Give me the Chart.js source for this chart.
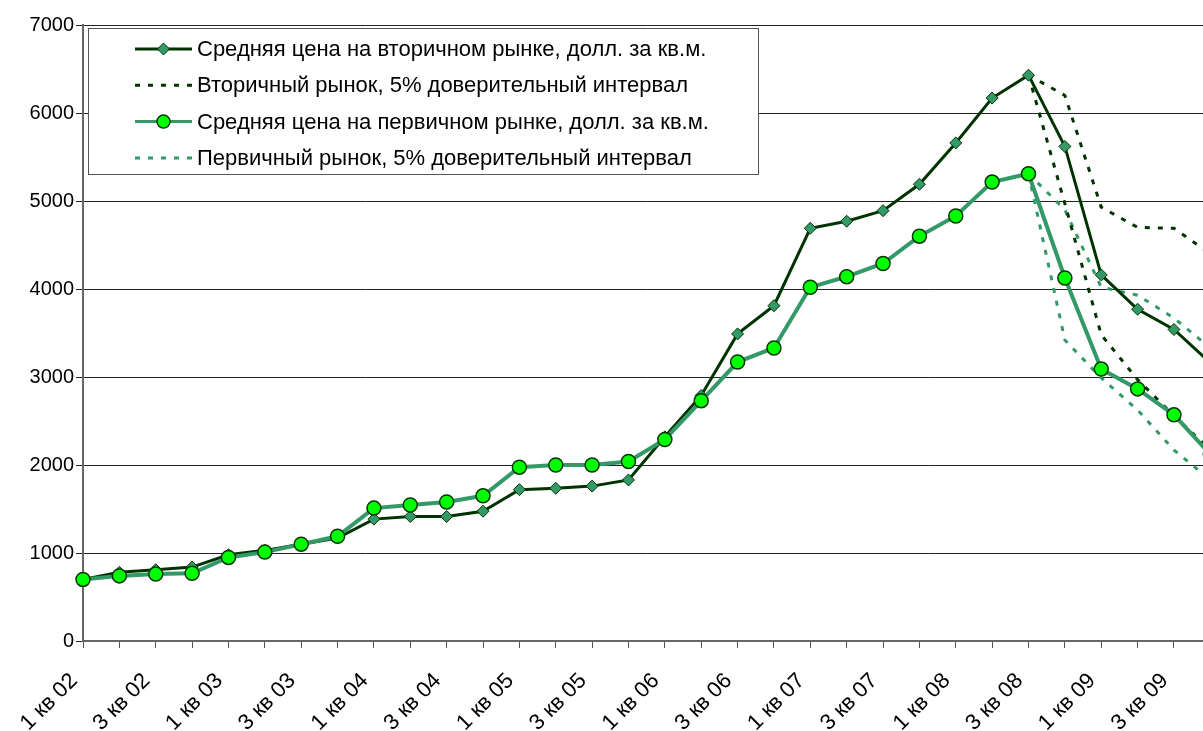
<!DOCTYPE html>
<html>
<head>
<meta charset="utf-8">
<script src="https://cdn.jsdelivr.net/npm/chart.js@4"></script>
<style>
  html, body { margin: 0; padding: 0; background: #fff; overflow: hidden; }
  .wrap { width: 1249px; height: 731px; }
</style>
</head>
<body>
<div class="wrap"><canvas id="myChart" width="1249" height="731"></canvas></div>
<script>
const quarters = [
  '1 кв 02', '2 кв 02', '3 кв 02', '4 кв 02',
  '1 кв 03', '2 кв 03', '3 кв 03', '4 кв 03',
  '1 кв 04', '2 кв 04', '3 кв 04', '4 кв 04',
  '1 кв 05', '2 кв 05', '3 кв 05', '4 кв 05',
  '1 кв 06', '2 кв 06', '3 кв 06', '4 кв 06',
  '1 кв 07', '2 кв 07', '3 кв 07', '4 кв 07',
  '1 кв 08', '2 кв 08', '3 кв 08', '4 кв 08',
  '1 кв 09', '2 кв 09', '3 кв 09', '4 кв 09',
];

const secondaryMean = [
  700, 780, 810, 840, 980, 1030, 1100, 1170,
  1385, 1415, 1415, 1475, 1720, 1735, 1760, 1830,
  2320, 2790, 3490, 3810, 4690, 4770, 4890, 5190,
  5660, 6170, 6430, 5620, 4160, 3770, 3540, 3160,
];
const secondaryUpper = [
  null, null, null, null, null, null, null, null,
  null, null, null, null, null, null, null, null,
  null, null, null, null, null, null, null, null,
  null, null, 6430, 6200, 4930, 4700, 4690, 4400,
];
const secondaryLower = [
  null, null, null, null, null, null, null, null,
  null, null, null, null, null, null, null, null,
  null, null, null, null, null, null, null, null,
  null, null, 6430, 4970, 3480, 2970, 2560, 2170,
];

const primaryMean = [
  700, 740, 760, 770, 950, 1010, 1100, 1190,
  1510, 1545, 1580, 1650, 1975, 2000, 2000, 2040,
  2290, 2730, 3170, 3330, 4020, 4140, 4290, 4600,
  4830, 5215, 5310, 4125, 3090, 2865, 2570, 2120,
];
const primaryUpper = [
  null, null, null, null, null, null, null, null,
  null, null, null, null, null, null, null, null,
  null, null, null, null, null, null, null, null,
  null, null, 5310, 4900, 4020, 3930, 3670, 3330,
];
const primaryLower = [
  null, null, null, null, null, null, null, null,
  null, null, null, null, null, null, null, null,
  null, null, null, null, null, null, null, null,
  null, null, 5310, 3420, 2990, 2625, 2170, 1830,
];

const colors = {
  dark: '#003300',
  diamond: '#339966',
  primary: '#339966',
  circle: '#00ff00',
};
const font = "Arial, 'Liberation Sans', sans-serif";
const dash = [5, 8];

const legendItems = [
  { text: 'Средняя цена на вторичном рынке, долл. за кв.м.', color: colors.dark, width: 3, dash: [], marker: 'diamond' },
  { text: 'Вторичный рынок, 5% доверительный интервал', color: colors.dark, width: 3, dash: dash, marker: null },
  { text: 'Средняя цена на первичном рынке, долл. за кв.м.', color: colors.primary, width: 3, dash: [], marker: 'circle' },
  { text: 'Первичный рынок, 5% доверительный интервал', color: colors.primary, width: 3, dash: dash, marker: null },
];

// legend is drawn by hand, boxed inside the plot like the original
const legendBox = {
  id: 'legendBox',
  afterDraw(chart) {
    const ctx = chart.ctx;
    const area = chart.chartArea;
    const x = area.left + 5, y = area.top + 3, w = 670, h = 146;
    ctx.save();
    ctx.fillStyle = '#fff';
    ctx.fillRect(x, y, w, h);
    ctx.strokeStyle = '#555';
    ctx.lineWidth = 1;
    ctx.strokeRect(x + 0.5, y + 0.5, w, h);
    legendItems.forEach((item, i) => {
      const cy = y + 21 + i * 36.3;
      ctx.beginPath();
      ctx.setLineDash(item.dash);
      ctx.strokeStyle = item.color;
      ctx.lineWidth = item.width;
      ctx.moveTo(x + 47, cy);
      ctx.lineTo(x + 104, cy);
      ctx.stroke();
      ctx.setLineDash([]);
      const mx = x + 75.5;
      if (item.marker === 'diamond') {
        ctx.beginPath();
        ctx.moveTo(mx, cy - 6);
        ctx.lineTo(mx + 6, cy);
        ctx.lineTo(mx, cy + 6);
        ctx.lineTo(mx - 6, cy);
        ctx.closePath();
        ctx.fillStyle = colors.diamond;
        ctx.fill();
        ctx.lineWidth = 1;
        ctx.strokeStyle = colors.dark;
        ctx.stroke();
      } else if (item.marker === 'circle') {
        ctx.beginPath();
        ctx.arc(mx, cy, 6.5, 0, Math.PI * 2);
        ctx.fillStyle = colors.circle;
        ctx.fill();
        ctx.lineWidth = 1.5;
        ctx.strokeStyle = colors.dark;
        ctx.stroke();
      }
      ctx.fillStyle = '#000';
      ctx.font = '22px ' + font;
      ctx.textBaseline = 'middle';
      ctx.textAlign = 'left';
      ctx.fillText(item.text, x + 109, cy + 1);
    });
    ctx.restore();
  },
};

const ctx = document.getElementById('myChart');

// eslint-disable-next-line no-undef
var chart = new Chart(ctx, { // eslint-disable-line no-unused-vars
  type: 'line',
  data: {
    labels: quarters,
    datasets: [
      {
        label: 'Средняя цена на первичном рынке, долл. за кв.м.',
        data: primaryMean,
        borderColor: colors.primary,
        borderWidth: 4,
        pointStyle: 'circle',
        pointRadius: 7,
        pointBackgroundColor: colors.circle,
        pointBorderColor: colors.dark,
        pointBorderWidth: 1.5,
        order: 0,
      },
      {
        label: 'Средняя цена на вторичном рынке, долл. за кв.м.',
        data: secondaryMean,
        borderColor: colors.dark,
        borderWidth: 3,
        pointStyle: 'rectRot',
        pointRadius: 6,
        pointBackgroundColor: colors.diamond,
        pointBorderColor: colors.dark,
        pointBorderWidth: 1,
        order: 1,
      },
      {
        label: 'Вторичный рынок, верх',
        data: secondaryUpper,
        borderColor: colors.dark,
        borderWidth: 3,
        borderDash: dash,
        pointRadius: 0,
        order: 2,
      },
      {
        label: 'Вторичный рынок, низ',
        data: secondaryLower,
        borderColor: colors.dark,
        borderWidth: 3,
        borderDash: dash,
        pointRadius: 0,
        order: 2,
      },
      {
        label: 'Первичный рынок, верх',
        data: primaryUpper,
        borderColor: colors.primary,
        borderWidth: 3,
        borderDash: dash,
        pointRadius: 0,
        order: 3,
      },
      {
        label: 'Первичный рынок, низ',
        data: primaryLower,
        borderColor: colors.primary,
        borderWidth: 3,
        borderDash: dash,
        pointRadius: 0,
        order: 3,
      },
    ],
  },
  options: {
    responsive: false,
    animation: false,
    layout: { padding: { top: 25, right: 10, left: 0, bottom: 0 } },
    plugins: {
      legend: { display: false },
      tooltip: { enabled: false },
    },
    scales: {
      x: {
        offset: false,
        afterFit: (scale) => { scale.height = 90; },
        grid: {
          drawOnChartArea: false,
          drawTicks: true,
          tickLength: 7,
          color: '#555',
          lineWidth: 1,
        },
        border: { color: '#666', width: 2 },
        ticks: {
          autoSkip: false,
          maxRotation: 45,
          minRotation: 45,
          padding: 20,
          labelOffset: -9,
          color: '#000',
          font: { family: font, size: 22 },
          callback: function (value, index) {
            return index % 2 === 0 ? this.getLabelForValue(value) : '';
          },
        },
      },
      y: {
        min: 0,
        max: 7000,
        afterFit: (scale) => { scale.width = 83; },
        grid: {
          color: '#222',
          lineWidth: 1,
          tickLength: 7,
          drawTicks: true,
        },
        border: { color: '#666', width: 2 },
        ticks: {
          stepSize: 1000,
          padding: 2,
          color: '#000',
          font: { family: font, size: 20 },
          callback: (value) => String(value),
        },
      },
    },
  },
  plugins: [legendBox],
});
</script>
</body>
</html>
